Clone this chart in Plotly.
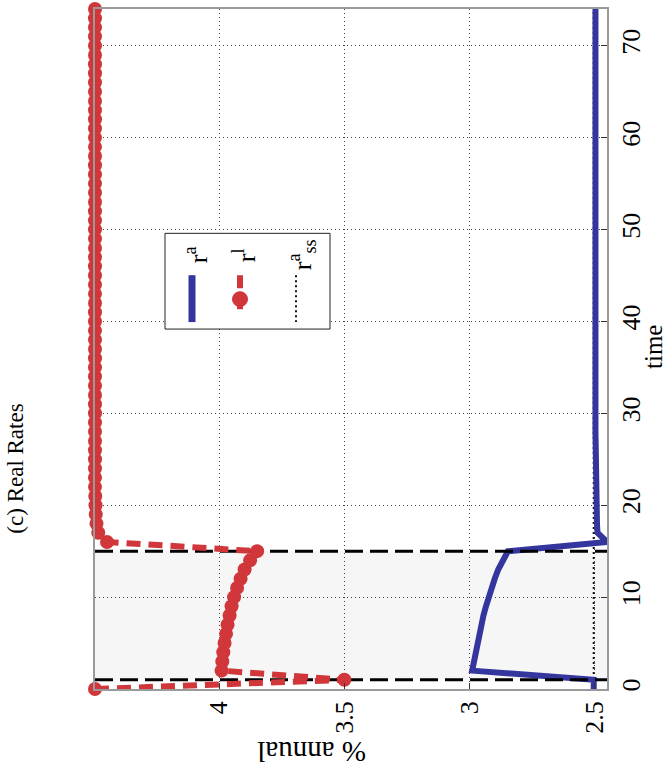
import plotly.graph_objects as go

# ---- data ----
time = list(range(0, 75))

# real rate on assets, r^a (% annual)
r_a = ([2.505, 2.505,
        2.990, 2.983, 2.977, 2.970, 2.962, 2.954, 2.945, 2.935,
        2.925, 2.913, 2.900, 2.886, 2.868, 2.847,
        2.452, 2.490, 2.492, 2.493, 2.493, 2.494, 2.495]
       + [2.498] * 52)

# real lending rate, r^l (% annual)
r_l = ([4.495, 3.500,
        3.990, 3.987, 3.983, 3.978, 3.972, 3.966, 3.958, 3.950,
        3.940, 3.928, 3.914, 3.898, 3.876, 3.848,
        4.447, 4.482, 4.489, 4.492, 4.493, 4.494]
       + [4.495] * 53)

# steady-state real rate on assets
r_a_ss = 2.505

# start and end of the shock period
shock_bounds = [1, 15]

value_range = [4.495, 2.452]
time_range = [0, 74]
value_ticks = [2.5, 3, 3.5, 4]
value_ticktext = ["2.5", "3", "3.5", "4"]
time_ticks = [0, 10, 20, 30, 40, 50, 60, 70]

BLUE = "#35359e"
RED = "#d0363a"
FONT = "Liberation Serif"

W, H = 669, 770
ML, MR, MT, MB = 95, 62, 7, 81
PW, PH = W - ML - MR, H - MT - MB


def px(x):
    return (x - ML) / PW


def py(y):
    return (H - MB - y) / PH


fig = go.Figure()

# shaded shock period
fig.add_shape(type="rect", xref="paper", yref="y", x0=0, x1=1,
              y0=shock_bounds[0], y1=shock_bounds[1],
              fillcolor="#f6f6f6", line_width=0, layer="below")

# steady state (dotted)
fig.add_trace(go.Scatter(x=[r_a_ss] * len(time), y=time, mode="lines",
                         line=dict(color="#111111", width=2, dash="2px,3px"),
                         hoverinfo="skip", showlegend=False))

# r^a
fig.add_trace(go.Scatter(x=r_a, y=time, mode="lines",
                         line=dict(color=BLUE, width=6),
                         showlegend=False, cliponaxis=False))

# shock period boundaries
for b in shock_bounds:
    fig.add_trace(go.Scatter(x=value_range, y=[b, b], mode="lines",
                             line=dict(color="black", width=3, dash="18px,7px"),
                             hoverinfo="skip", showlegend=False))

# r^l
fig.add_trace(go.Scatter(x=r_l, y=time, mode="lines+markers",
                         line=dict(color=RED, width=6, dash="14px,8px"),
                         marker=dict(color=RED, size=14, symbol="circle"),
                         showlegend=False, cliponaxis=False))

# ---- legend (drawn rotated) ----
fig.add_shape(type="rect", xref="paper", yref="paper",
              x0=px(165), x1=px(330), y0=py(328), y1=py(232),
              line=dict(color="#222222", width=1), fillcolor="white",
              layer="above")
fig.add_shape(type="line", xref="paper", yref="paper",
              x0=px(192), x1=px(192), y0=py(274), y1=py(321),
              line=dict(color=BLUE, width=7), layer="above")
fig.add_shape(type="line", xref="paper", yref="paper",
              x0=px(240), x1=px(240), y0=py(274), y1=py(312),
              line=dict(color=RED, width=6, dash="13px,8px"), layer="above")
fig.add_shape(type="circle", xref="paper", yref="paper",
              x0=px(232.5), x1=px(247.5), y0=py(305.5), y1=py(290.5),
              line=dict(color=RED, width=1), fillcolor=RED, layer="above")
fig.add_shape(type="line", xref="paper", yref="paper",
              x0=px(296), x1=px(296), y0=py(274), y1=py(321),
              line=dict(color="#111111", width=2, dash="2px,3px"), layer="above")

legend_items = [("r<sup>a</sup>", 196), ("r<sup>l</sup>", 244),
                ("r<sup>a</sup><sub>ss</sub>", 302)]
for txt, xc in legend_items:
    fig.add_annotation(x=px(xc), y=py(254), xref="paper", yref="paper",
                       text=txt, showarrow=False, textangle=-90,
                       xanchor="center", yanchor="middle",
                       font=dict(family=FONT, size=26, color="black"))

# ---- titles ----
fig.add_annotation(x=px(16), y=py(468), xref="paper", yref="paper",
                   text="(c) Real Rates", showarrow=False, textangle=-90,
                   xanchor="center", yanchor="middle",
                   font=dict(family=FONT, size=23, color="black"))
fig.add_annotation(x=px(653), y=py(346), xref="paper", yref="paper",
                   text="time", showarrow=False, textangle=-90,
                   xanchor="center", yanchor="middle",
                   font=dict(family=FONT, size=25, color="black"))
fig.add_annotation(x=px(312), y=py(752), xref="paper", yref="paper",
                   text="% annual", showarrow=False, textangle=180,
                   xanchor="center", yanchor="middle",
                   font=dict(family=FONT, size=29, color="black"))

fig.update_layout(
    width=W, height=H,
    margin=dict(l=ML, r=MR, t=MT, b=MB, pad=0),
    paper_bgcolor="white", plot_bgcolor="white",
    showlegend=False,
    xaxis=dict(range=value_range, tickvals=value_ticks, ticktext=value_ticktext,
               tickangle=-90, ticks="inside", ticklen=6, tickcolor="#333333",
               ticklabelstandoff=0,
               tickfont=dict(family=FONT, size=26, color="black"),
               showgrid=True, gridcolor="#444444", griddash="1px,3px", gridwidth=1,
               showline=True, linecolor="#9a9a9a", linewidth=1.5, mirror=True,
               zeroline=False),
    yaxis=dict(range=time_range, tickvals=time_ticks, side="right",
               tickangle=-90, ticks="inside", ticklen=6, tickcolor="#333333",
               ticklabelstandoff=0,
               tickfont=dict(family=FONT, size=26, color="black"),
               showgrid=True, gridcolor="#444444", griddash="1px,3px", gridwidth=1,
               showline=True, linecolor="#9a9a9a", linewidth=1.5, mirror=True,
               zeroline=False),
)

fig.write_html("out.html")
